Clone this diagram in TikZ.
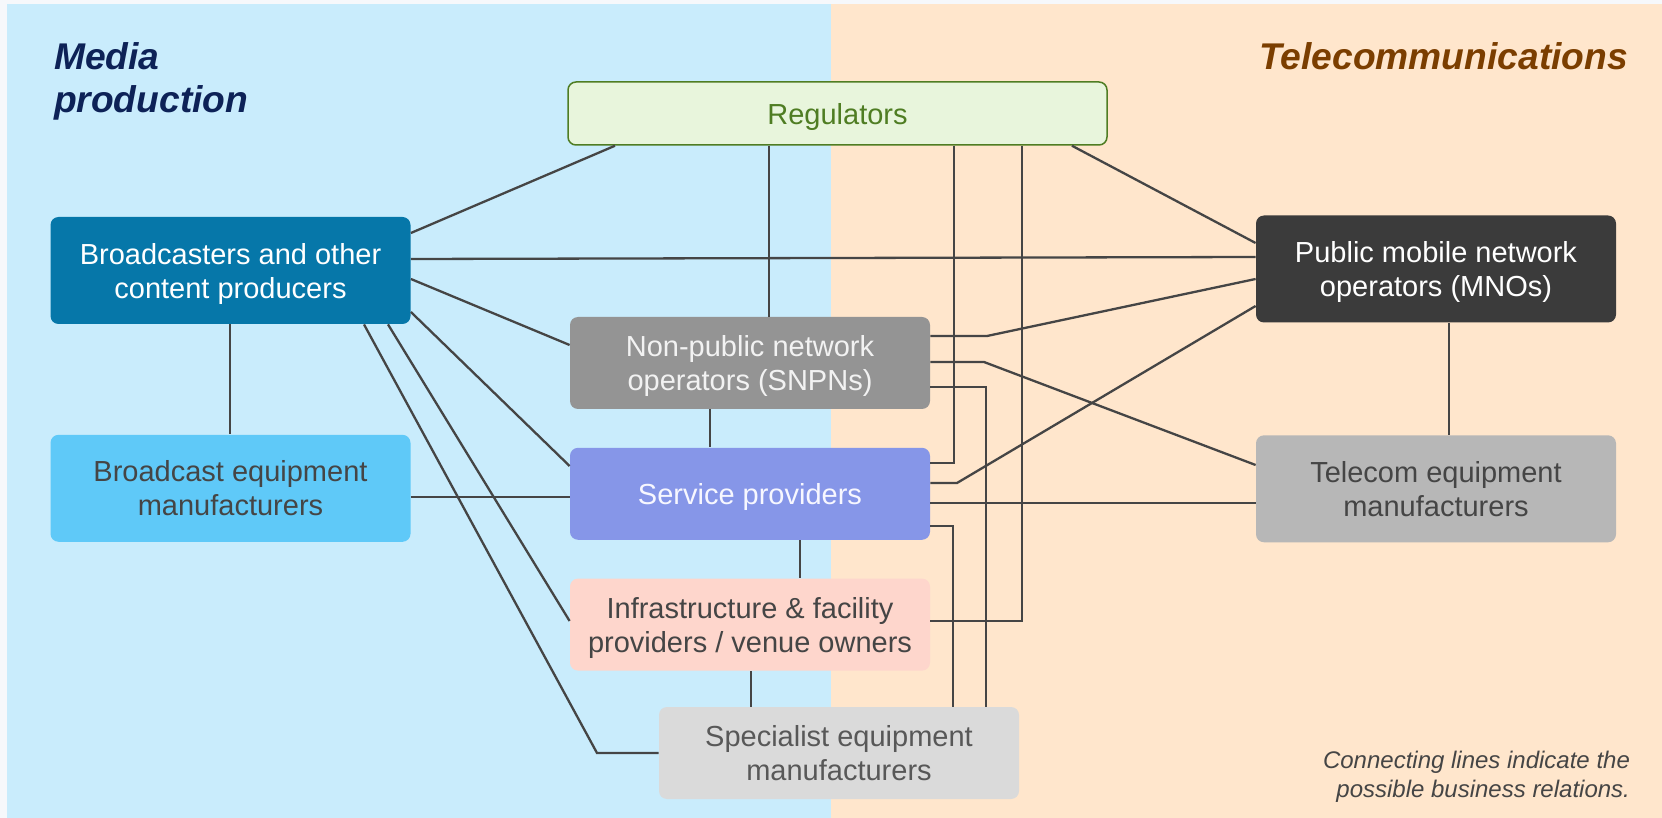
\documentclass[tikz,border=0pt]{standalone}
\usepackage{fontspec}
\setmainfont{Liberation Sans}
\usetikzlibrary{positioning}

\definecolor{pagebg}{HTML}{F6F8FB}
\definecolor{mediabg}{HTML}{C9ECFC}
\definecolor{telebg}{HTML}{FFE6CC}
\definecolor{mediatitle}{HTML}{0D2257}
\definecolor{teletitle}{HTML}{7B3E00}
\definecolor{linegray}{HTML}{454545}
\definecolor{textgray}{HTML}{454545}
\definecolor{reggreen}{HTML}{4F7D23}
\definecolor{regfill}{HTML}{E8F5DC}
\definecolor{bcfill}{HTML}{0677A9}
\definecolor{mnofill}{HTML}{3B3B3B}
\definecolor{snpnfill}{HTML}{949494}
\definecolor{bemfill}{HTML}{5FC9F8}
\definecolor{spfill}{HTML}{8696E8}
\definecolor{temfill}{HTML}{B7B7B7}
\definecolor{inffill}{HTML}{FED6CC}
\definecolor{spefill}{HTML}{DADADA}

\begin{document}
\begin{tikzpicture}[x=0.5pt, y=-0.5pt,
  box/.style={rounded corners=4pt, align=center, inner sep=0pt, text depth=0pt,
              minimum width=180pt, minimum height=53.5pt,
              font=\fontsize{14.5}{17}\selectfont},
  mid/.style={box, minimum height=46pt},
  side/.style={font=\fontsize{18.6}{21.5}\selectfont\bfseries\itshape, align=left},
  link/.style={draw=linegray, line width=1.15pt}
]
\useasboundingbox (0,0) rectangle (1662,818);
\fill[pagebg] (0,0) rectangle (1662,818);
\fill[mediabg] (7,4) rectangle (831,818);
\fill[telebg] (831,4) rectangle (1662,818);

\node[side, text=mediatitle, anchor=base west] (tm) at (47,113) {Media\\production};
\node[side, text=teletitle, anchor=base east] (tt) at (1635,70) {Telecommunications};

\node[box, fill=regfill, draw=reggreen, line width=0.75pt, text=reggreen,
      minimum width=269.5pt, minimum height=31.5pt] (reg) at (837.5,113.5) {Regulators};
\node[box, fill=bcfill, text=white] (bc) at (230.5,270.5) {Broadcasters and other\\content producers};
\node[box, fill=mnofill, text=white] (mno) at (1436,269) {Public mobile network\\operators (MNOs)};
\node[box, fill=bemfill, text=textgray, below=55pt of bc] (bem) {Broadcast equipment\\manufacturers};
\node[box, fill=temfill, text=textgray, below=56pt of mno] (tem) {Telecom equipment\\manufacturers};
\node[mid, fill=snpnfill, text=white!95!black] (snpn) at (750,363) {Non-public network\\operators (SNPNs)};
\node[mid, fill=spfill, text=white!97!blue] (sp) [below=19pt of snpn] {Service providers};
\node[mid, fill=inffill, text=textgray] (inf) [below=19pt of sp] {Infrastructure \& facility\\providers / venue owners};
\node[mid, fill=spefill, text=textgray!90!white] (spe) at (839,753) {Specialist equipment\\manufacturers};

\node[font=\fontsize{12}{14.5}\selectfont\itshape, text=textgray, align=right,
      anchor=base east] (note) at (1637,797) {Connecting lines indicate the\\possible business relations.};

\draw[link] (reg.south -| 615,0) -- (bc.east |- 0,233);
\draw[link] (reg.south -| 769,0) -- (snpn.north -| 769,0);
\draw[link] (reg.south -| 954,0) |- (sp.east |- 0,463);
\draw[link] (reg.south -| 1022,0) |- (inf.east |- 0,621);
\draw[link] (reg.south -| 1072,0) -- (mno.west |- 0,243);

\draw[link] (bc.east |- 0,259) -- (mno.west |- 0,257);
\draw[link] (bc.east |- 0,279) -- (snpn.west |- 0,345);
\draw[link] (bc.east |- 0,312) -- (sp.west |- 0,466);
\draw[link] (bc.south -| 388,0) -- (inf.west |- 0,621);
\draw[link] (bc.south -| 364,0) -- (597,753) -- (spe.west |- 0,753);
\draw[link] (bc.south -| 230,0) -- (bem.north -| 230,0);
\draw[link] (bem.east |- 0,497) -- (sp.west |- 0,497);

\draw[link] (snpn.south -| 710,0) -- (sp.north -| 710,0);
\draw[link] (snpn.east |- 0,336) -- (987,336) -- (mno.west |- 0,279);
\draw[link] (snpn.east |- 0,362) -- (984,362) -- (tem.west |- 0,465);
\draw[link] (snpn.east |- 0,387) -| (spe.north -| 986,0);

\draw[link] (sp.east |- 0,483) -- (957,483) -- (mno.west |- 0,306);
\draw[link] (sp.east |- 0,503) -- (tem.west |- 0,503);
\draw[link] (sp.east |- 0,526) -| (spe.north -| 953,0);
\draw[link] (sp.south -| 800,0) -- (inf.north -| 800,0);
\draw[link] (inf.south -| 751,0) -- (spe.north -| 751,0);
\draw[link] (mno.south -| 1449,0) -- (tem.north -| 1449,0);
\end{tikzpicture}
\end{document}
